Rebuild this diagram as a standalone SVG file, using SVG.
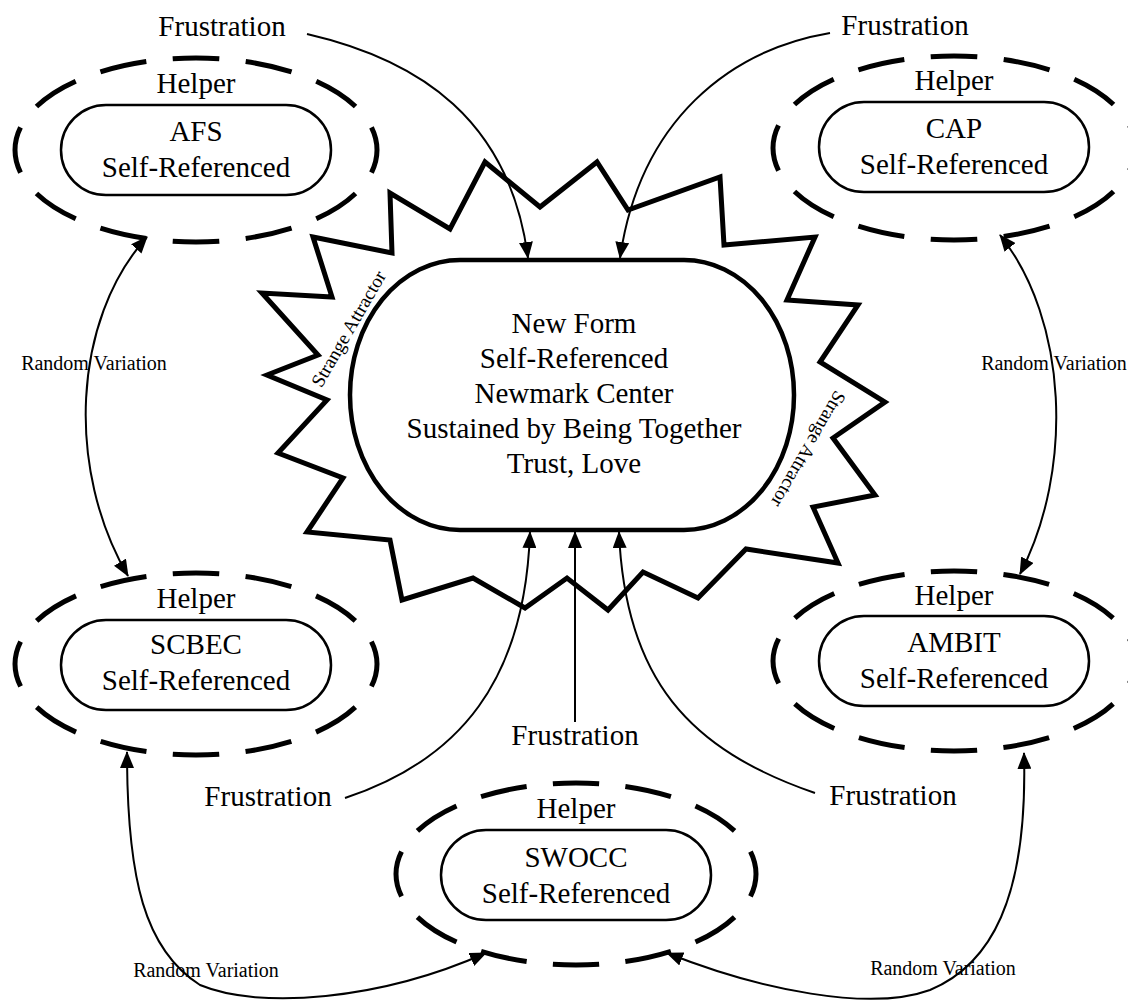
<svg xmlns="http://www.w3.org/2000/svg" width="1128" height="1001" viewBox="0 0 1128 1001">
<style>
text { font-family: "Liberation Serif", "Times New Roman", serif; fill: #000; }
.t { font-size: 29px; text-anchor: middle; }
.rv { font-size: 20px; text-anchor: middle; }
.sa { font-size: 19px; text-anchor: middle; }
.halo { fill: none; stroke: #000; stroke-width: 5; stroke-dasharray: 6.4 3.6; stroke-dashoffset: 3.2; }
.pill { fill: #fff; stroke: #000; stroke-width: 2.5; }
.conn { fill: none; stroke: #000; stroke-width: 2; }
.star { fill: #fff; stroke: #000; stroke-width: 5; stroke-linejoin: miter; stroke-miterlimit: 10; }
.core { fill: #fff; stroke: #000; stroke-width: 4.5; }
</style>
<defs>
<marker id="ah" viewBox="0 0 17 14" refX="16" refY="7" markerWidth="17" markerHeight="14" markerUnits="userSpaceOnUse" orient="auto-start-reverse">
<path d="M0,0 L17,7 L0,14 z" fill="#000"/>
</marker>
</defs>
<rect width="1128" height="1001" fill="#fff"/>

<g id="strange-attractor">
<polygon class="star" points="313,237 392,253 390,193 450,229 485,162 540,207 597,162 628,210 720,177 724,245 815,237 787,300 858,305 820,362 885,402 833,438 875,495 813,507 838,563 746,549 698,598 643,572 608,610 567,578 525,608 473,578 402,600 390,540 307,532 343,478 278,453 327,400 267,375 318,355 262,293 332,297"/>
<text class="sa" transform="translate(354,332) rotate(-60)">Strange Attractor</text>
<text class="sa" transform="translate(803,446) rotate(120)">Strange Attractor</text>
</g>

<g id="center">
<rect class="core" x="350" y="260" width="444" height="270" rx="110" ry="135"/>
<text class="t" x="574" y="333">New Form</text>
<text class="t" x="574" y="368">Self-Referenced</text>
<text class="t" x="574" y="403">Newmark Center</text>
<text class="t" x="574" y="438">Sustained by Being Together</text>
<text class="t" x="574" y="473">Trust, Love</text>
</g>

<g id="afs">
<ellipse class="halo" cx="196" cy="150" rx="181" ry="92" pathLength="120"/>
<rect class="pill" x="61" y="105" width="270" height="90" rx="45" ry="45"/>
<text class="t" x="196" y="93">Helper</text>
<text class="t" x="196" y="141">AFS</text>
<text class="t" x="196" y="177">Self-Referenced</text>
</g>

<g id="cap">
<ellipse class="halo" cx="954" cy="148" rx="181" ry="92" pathLength="120"/>
<rect class="pill" x="819" y="102" width="270" height="90" rx="45" ry="45"/>
<text class="t" x="954" y="90">Helper</text>
<text class="t" x="954" y="138">CAP</text>
<text class="t" x="954" y="174">Self-Referenced</text>
</g>

<g id="scbec">
<ellipse class="halo" cx="196" cy="664" rx="181" ry="91" pathLength="120"/>
<rect class="pill" x="61" y="620" width="270" height="90" rx="45" ry="45"/>
<text class="t" x="196" y="608">Helper</text>
<text class="t" x="196" y="654">SCBEC</text>
<text class="t" x="196" y="690">Self-Referenced</text>
</g>

<g id="ambit">
<ellipse class="halo" cx="954" cy="661" rx="181" ry="90" pathLength="120"/>
<rect class="pill" x="819" y="616" width="270" height="90" rx="45" ry="45"/>
<text class="t" x="954" y="605">Helper</text>
<text class="t" x="954" y="652">AMBIT</text>
<text class="t" x="954" y="688">Self-Referenced</text>
</g>

<g id="swocc">
<ellipse class="halo" cx="576" cy="874" rx="180" ry="91" pathLength="120"/>
<rect class="pill" x="441" y="830" width="270" height="90" rx="45" ry="45"/>
<text class="t" x="576" y="818">Helper</text>
<text class="t" x="576" y="867">SWOCC</text>
<text class="t" x="576" y="903">Self-Referenced</text>
</g>

<g id="connectors">
<path class="conn" d="M307,34 C420,60 510,120 528,258" marker-end="url(#ah)"/>
<path class="conn" d="M830,33 C730,50 640,120 620,258" marker-end="url(#ah)"/>
<path class="conn" d="M575,722 L575,532" marker-end="url(#ah)"/>
<path class="conn" d="M345,798 C460,760 525,680 530,532" marker-end="url(#ah)"/>
<path class="conn" d="M815,793 C690,750 625,680 619,532" marker-end="url(#ah)"/>
<path class="conn" d="M147,237 C72,320 66,470 128,576" marker-start="url(#ah)" marker-end="url(#ah)"/>
<path class="conn" d="M1000,235 C1068,320 1074,470 1020,574" marker-start="url(#ah)" marker-end="url(#ah)"/>
<path class="conn" d="M127,752 C127,880 145,950 200,985 C260,1010 380,1000 486,953" marker-start="url(#ah)" marker-end="url(#ah)"/>
<path class="conn" d="M1024,753 C1028,900 990,965 930,990 C870,1012 760,990 667,953" marker-start="url(#ah)" marker-end="url(#ah)"/>
</g>

<g id="labels">
<text class="t" x="222" y="36">Frustration</text>
<text class="t" x="905" y="35">Frustration</text>
<text class="t" x="575" y="745">Frustration</text>
<text class="t" x="268" y="806">Frustration</text>
<text class="t" x="893" y="805">Frustration</text>
<text class="rv" x="94" y="370">Random Variation</text>
<text class="rv" x="1054" y="370">Random Variation</text>
<text class="rv" x="206" y="977">Random Variation</text>
<text class="rv" x="943" y="975">Random Variation</text>
</g>
</svg>
